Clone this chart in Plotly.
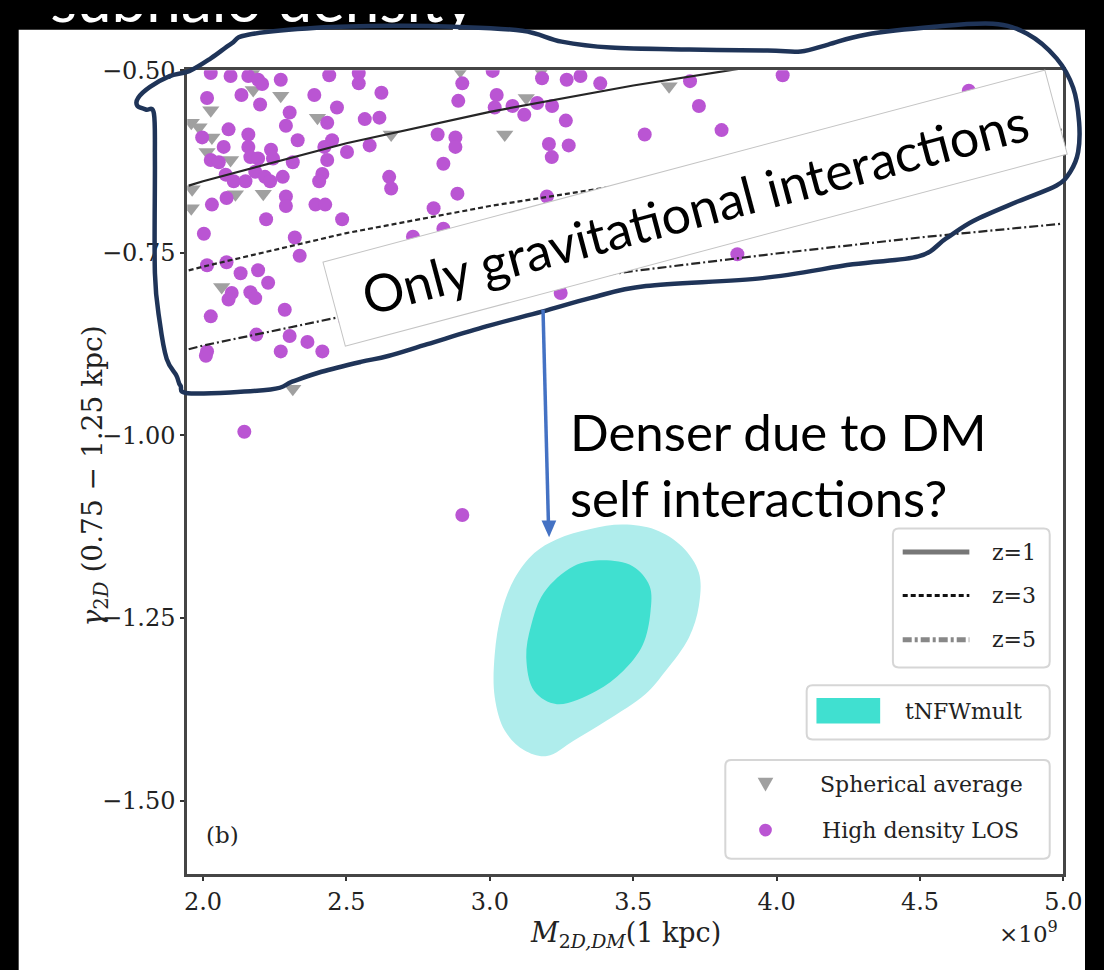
import plotly.graph_objects as go

W, H = 1104, 970

# ---------------- data ----------------
# High density LOS (purple dots): x = M_2D,DM(1 kpc) [1e9], y = gamma_2D
los_x = [2.027, 2.096, 2.158, 2.192, 2.206, 2.271, 2.440, 2.543, 2.543, 2.622,
         2.014, 2.134, 2.199, 2.388, 2.302, 2.467, 2.433, 2.564, 2.615, 2.089,
         2.158, 2.289, 1.997, 2.330, 2.450, 2.423, 2.072, 2.158, 2.237, 2.502,
         2.581, 2.027, 2.055, 2.165, 2.192, 2.244, 2.313, 2.433, 2.182, 2.079,
         2.107, 2.148, 2.216, 2.278, 2.416, 2.405, 2.234, 2.082, 2.031, 2.289,
         2.289, 2.392, 2.426,
         3.010, 2.904, 3.182, 3.268, 3.316, 2.890, 3.024, 3.017, 3.079,
         3.120, 3.165, 3.217, 3.265, 2.818, 2.880, 2.880, 3.206, 3.275,
         3.216, 2.838, 2.649, 2.656, 2.887, 3.199, 2.804,
         3.385, 3.698, 3.729, 3.540, 3.808, 4.021, 4.670,
         2.220, 2.485, 2.003, 2.320, 2.337, 2.014, 2.082,
         2.131, 2.192, 2.227, 2.165, 2.100, 2.089, 2.182, 2.027, 2.285, 2.186,
         2.302, 2.364, 2.416, 2.271, 2.014, 2.010, 2.495,
         2.732, 2.838, 3.247, 3.863,
         2.144, 2.904]
los_y = [-0.504, -0.508, -0.508, -0.513, -0.519, -0.513, -0.507, -0.504, -0.518, -0.531,
         -0.538, -0.534, -0.547, -0.534, -0.558, -0.551, -0.572, -0.567, -0.565, -0.581,
         -0.588, -0.576, -0.592, -0.596, -0.596, -0.605, -0.605, -0.605, -0.609, -0.612,
         -0.603, -0.623, -0.626, -0.619, -0.621, -0.621, -0.626, -0.623, -0.639, -0.643,
         -0.652, -0.652, -0.646, -0.646, -0.642, -0.652, -0.652, -0.675, -0.684, -0.673,
         -0.686, -0.684, -0.684,
         -0.501, -0.518, -0.511, -0.513, -0.508, -0.542, -0.534, -0.551, -0.549,
         -0.561, -0.545, -0.549, -0.569, -0.588, -0.592, -0.605, -0.601, -0.603,
         -0.619, -0.628, -0.646, -0.662, -0.669, -0.673, -0.689,
         -0.518, -0.515, -0.549, -0.588, -0.582, -0.507, -0.528,
         -0.704, -0.704, -0.724, -0.729, -0.754, -0.767, -0.763,
         -0.778, -0.774, -0.791, -0.804, -0.805, -0.814, -0.812, -0.837, -0.828, -0.862,
         -0.864, -0.872, -0.885, -0.885, -0.885, -0.891, -0.841,
         -0.728, -0.717, -0.805, -0.752,
         -0.995, -1.109]

# Spherical average (grey down-triangles)
sph_x = [2.175, 2.271, 2.027, 2.399, 1.959, 1.986, 2.031, 2.096, 1.962, 2.210, 2.113,
         2.014, 2.179, 1.959, 2.897, 3.179, 3.127, 2.656, 3.052, 3.625, 2.065, 2.313]
sph_y = [-0.527, -0.535, -0.555, -0.565, -0.572, -0.578, -0.592, -0.623, -0.663, -0.669, -0.670,
         -0.612, -0.500, -0.689, -0.501, -0.501, -0.538, -0.588, -0.588, -0.522, -0.797, -0.936]

# redshift relations
rel_x = [1.95, 2.0, 2.5, 3.0, 3.5, 4.0, 4.5, 5.0]
z1_y = [-0.658, -0.652, -0.600, -0.557, -0.521, -0.490, -0.462, -0.437]
z3_y = [-0.774, -0.769, -0.723, -0.686, -0.655, -0.627, -0.601, -0.581]
z5_y = [-0.882, -0.877, -0.836, -0.803, -0.775, -0.751, -0.729, -0.710]

# tNFWmult posterior contours
outer_x = [3.155, 3.234, 3.351, 3.464, 3.577, 3.670, 3.729, 3.729, 3.694, 3.612,
           3.543, 3.405, 3.292, 3.199, 3.120, 3.052, 3.017, 3.017, 3.041, 3.086, 3.155]
outer_y = [-1.161, -1.142, -1.128, -1.122, -1.129, -1.152, -1.188, -1.233, -1.277, -1.323,
           -1.354, -1.391, -1.418, -1.439, -1.431, -1.404, -1.358, -1.300, -1.242, -1.196, -1.161]
inner_x = [3.292, 3.395, 3.498, 3.557, 3.560, 3.533, 3.464, 3.371, 3.234, 3.155,
           3.127, 3.144, 3.189, 3.292]
inner_y = [-1.179, -1.171, -1.179, -1.206, -1.242, -1.287, -1.323, -1.350, -1.368, -1.350,
           -1.304, -1.260, -1.215, -1.179]

x_ticks = [2.0, 2.5, 3.0, 3.5, 4.0, 4.5, 5.0]
y_ticks = [-1.50, -1.25, -1.00, -0.75, -0.50]

slide_title = "subhalo density"

# ---------------- helpers (picture pixel -> paper) ----------------
def px(x):
    return x / W

def py(y):
    return 1 - y / H

def smooth_closed_path(pts):
    P = [(px(a), py(b)) for a, b in pts]
    n = len(P)
    d = f"M{P[0][0]:.5f},{P[0][1]:.5f}"
    for i in range(n):
        p0 = P[(i - 1) % n]; p1 = P[i]; p2 = P[(i + 1) % n]; p3 = P[(i + 2) % n]
        c1 = (p1[0] + (p2[0] - p0[0]) / 6, p1[1] + (p2[1] - p0[1]) / 6)
        c2 = (p2[0] - (p3[0] - p1[0]) / 6, p2[1] - (p3[1] - p1[1]) / 6)
        d += f" C{c1[0]:.5f},{c1[1]:.5f} {c2[0]:.5f},{c2[1]:.5f} {p2[0]:.5f},{p2[1]:.5f}"
    return d + " Z"

def rounded_rect(x0, y0, x1, y1, r=6):
    a0, a1 = px(x0), px(x1)
    b0, b1 = py(y0), py(y1)
    rx, ry = r / W, r / H
    return (f"M{a0+rx},{b0} L{a1-rx},{b0} Q{a1},{b0} {a1},{b0-ry} "
            f"L{a1},{b1+ry} Q{a1},{b1} {a1-rx},{b1} L{a0+rx},{b1} "
            f"Q{a0},{b1} {a0},{b1+ry} L{a0},{b0-ry} Q{a0},{b0} {a0+rx},{b0} Z")

def poly(pts):
    return "M" + " L".join(f"{px(a):.5f},{py(b):.5f}" for a, b in pts) + " Z"

SERIF = "DejaVu Serif"
TXT = "#222222"

fig = go.Figure()

fig.add_trace(go.Scatter(x=outer_x, y=outer_y, mode="lines", fill="toself",
                         fillcolor="#AFEDEC", line=dict(width=0, shape="spline"),
                         showlegend=False, hoverinfo="skip"))
fig.add_trace(go.Scatter(x=inner_x, y=inner_y, mode="lines", fill="toself",
                         fillcolor="#40E0D0", line=dict(width=0, shape="spline"),
                         showlegend=False, hoverinfo="skip"))
fig.add_trace(go.Scatter(x=sph_x, y=sph_y, mode="markers", name="Spherical average",
                         marker=dict(symbol="triangle-down", size=15, color="#A0A0A0"),
                         showlegend=False))
fig.add_trace(go.Scatter(x=los_x, y=los_y, mode="markers", name="High density LOS",
                         marker=dict(symbol="circle", size=14, color="#BA55D3"),
                         showlegend=False))
fig.add_trace(go.Scatter(x=rel_x, y=z1_y, mode="lines", name="z=1",
                         line=dict(color="#262626", width=2.2), showlegend=False))
fig.add_trace(go.Scatter(x=rel_x, y=z3_y, mode="lines", name="z=3",
                         line=dict(color="#262626", width=2.2, dash="5px,3px"), showlegend=False))
fig.add_trace(go.Scatter(x=rel_x, y=z5_y, mode="lines", name="z=5",
                         line=dict(color="#262626", width=2.2, dash="9px,3px,2px,3px"), showlegend=False))

# slide title: only its lower part shows at the top edge (clipped by the pixel overlay axes)
fig.add_trace(go.Scatter(x=[482], y=[23.5], mode="text", text=[slide_title], textposition="top left",
                         textfont=dict(family="Lato", size=62, color="white"),
                         xaxis="x2", yaxis="y2", cliponaxis=True, showlegend=False, hoverinfo="skip"))

axis_common = dict(showgrid=False, zeroline=False, showline=True, mirror=True,
                   linecolor="#454545", linewidth=3, ticks="outside", ticklen=4,
                   tickwidth=2, tickcolor="#333333",
                   tickfont=dict(family=SERIF, size=24, color=TXT))

fig.update_layout(
    width=W, height=H, autosize=False,
    margin=dict(l=0, r=0, t=0, b=0, pad=0),
    paper_bgcolor="black", plot_bgcolor="rgba(0,0,0,0)",
    xaxis=dict(domain=[px(188), px(1082)], range=[1.945, 5.0],
               tickvals=x_ticks, ticktext=[f"{v:.1f}" for v in x_ticks], **axis_common),
    yaxis=dict(domain=[py(873), py(57)], range=[-1.601, -0.5],
               tickvals=y_ticks, ticktext=[f"\u2212{abs(v):.2f}" for v in y_ticks], **axis_common),
    xaxis2=dict(domain=[0, 1], range=[0, W], visible=False, fixedrange=True),
    yaxis2=dict(domain=[0, 1], range=[H, 0], visible=False, fixedrange=True),
)

shapes = []
# white slide panel
shapes.append(dict(type="rect", xref="paper", yref="paper", x0=px(16), x1=1.0, y0=0.0, y1=py(16),
                   fillcolor="white", line=dict(width=0), layer="below"))

# legend boxes
for (a, b, c, d) in [(908, 522, 1068, 663), (820, 681, 1068, 736), (737, 757, 1068, 857)]:
    shapes.append(dict(type="path", xref="paper", yref="paper", path=rounded_rect(a, b, c, d),
                       fillcolor="white", line=dict(color="#D6D6D6", width=2), layer="above"))
# legend samples
shapes.append(dict(type="line", xref="paper", yref="paper", x0=px(918), x1=px(986), y0=py(546), y1=py(546),
                   line=dict(color="#777777", width=5), layer="above"))
shapes.append(dict(type="line", xref="paper", yref="paper", x0=px(918), x1=px(986), y0=py(590), y1=py(590),
                   line=dict(color="#111111", width=3, dash="5px,3px"), layer="above"))
shapes.append(dict(type="line", xref="paper", yref="paper", x0=px(918), x1=px(986), y0=py(635), y1=py(635),
                   line=dict(color="#888888", width=5, dash="9px,3px,3px,3px"), layer="above"))
shapes.append(dict(type="rect", xref="paper", yref="paper", x0=px(830), x1=px(895), y0=py(720), y1=py(694),
                   fillcolor="#40E0D0", line=dict(width=0), layer="above"))
shapes.append(dict(type="path", xref="paper", yref="paper",
                   path=poly([(770, 775), (786, 775), (778, 789)]),
                   fillcolor="#A0A0A0", line=dict(width=0), layer="above"))
shapes.append(dict(type="circle", xref="paper", yref="paper", x0=px(771.5), x1=px(784.5),
                   y0=py(834.5), y1=py(821.5), fillcolor="#BA55D3", line=dict(width=0), layer="above"))

# hand-drawn outline
outline = [(250, 21), (320, 14), (400, 12), (460, 13), (530, 17), (570, 28), (620, 34), (700, 36),
           (780, 37), (814, 38), (842, 31), (880, 21), (950, 13), (1010, 10), (1045, 20), (1075, 45),
           (1092, 75), (1098, 110), (1097, 140), (1089, 160), (1075, 174), (1036, 190), (990, 210),
           (962, 228), (934, 246), (867, 254), (775, 268), (656, 276), (600, 288), (550, 302),
           (493, 317), (433, 335), (393, 347), (365, 353), (325, 363), (295, 373), (273, 381),
           (192, 385), (181, 377), (177, 367), (167, 350), (160, 313), (155, 263), (155, 150),
           (154, 101), (146, 97), (137, 93), (138, 85), (150, 74), (170, 63), (190, 58), (212, 45),
           (233, 30)]
shapes.append(dict(type="path", xref="paper", yref="paper", path=smooth_closed_path(outline),
                   line=dict(color="#1F3458", width=4.5), fillcolor="rgba(0,0,0,0)", layer="above"))

# blue arrow (shaft + head)
shapes.append(dict(type="line", xref="paper", yref="paper", x0=px(551), y0=py(300), x1=px(556.5), y1=py(516),
                   line=dict(color="#4472C4", width=3.5), layer="above"))
shapes.append(dict(type="path", xref="paper", yref="paper",
                   path=poly([(549.5, 514), (564.5, 514), (557.2, 531)]),
                   fillcolor="#4472C4", line=dict(width=0), layer="above"))

fig.update_layout(shapes=shapes)

ann = []
# axis titles
ann.append(dict(text="<i>γ</i><sub>2<i>D</i></sub> (0.75 − 1.25 kpc)", xref="paper", yref="paper",
                x=px(93), y=py(469), xanchor="center", yanchor="middle", textangle=-90, showarrow=False,
                font=dict(family=SERIF, size=28, color=TXT)))
ann.append(dict(text="<i>M</i><sub>2<i>D,DM</i></sub>(1 kpc)", xref="paper", yref="paper",
                x=px(635), y=py(934), xanchor="center", yanchor="middle", showarrow=False,
                font=dict(family=SERIF, size=27, color=TXT)))
ann.append(dict(text="×10<sup>9</sup>", xref="paper", yref="paper", x=px(1079), y=py(931),
                xanchor="right", yanchor="middle", showarrow=False,
                font=dict(family=SERIF, size=23, color=TXT)))
ann.append(dict(text="(b)", xref="paper", yref="paper", x=px(224), y=py(833), xanchor="center",
                yanchor="middle", showarrow=False, font=dict(family=SERIF, size=23, color=TXT)))
# legend texts
for t, x, y in [("z=1", 1007, 546), ("z=3", 1007, 590), ("z=5", 1007, 635), ("tNFWmult", 918, 708),
                ("Spherical average", 832, 782), ("High density LOS", 834, 828)]:
    ann.append(dict(text=t, xref="paper", yref="paper", x=px(x), y=py(y), xanchor="left",
                    yanchor="middle", showarrow=False, font=dict(family=SERIF, size=22, color=TXT)))
# rotated callout box
ann.append(dict(text="Only gravitational interactions", xref="paper", yref="paper",
                x=px(706.5), y=py(196.5), xanchor="center", yanchor="middle", textangle=-14.9,
                showarrow=False, bgcolor="white", bordercolor="#C4C4C4", borderwidth=1,
                borderpad=12, width=722, height=62,
                font=dict(family="Lato", size=52, color="black")))
# question text
ann.append(dict(text="Denser due to DM<br>self interactions?", xref="paper", yref="paper",
                x=px(578), y=py(392), xanchor="left", yanchor="top", align="left", showarrow=False,
                borderpad=0, font=dict(family="Lato", size=51, color="black")))

fig.update_layout(annotations=ann)

fig.write_html("out.html")
